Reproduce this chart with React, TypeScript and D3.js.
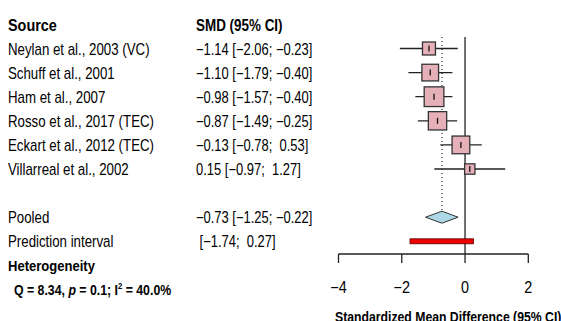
import React, { useEffect, useRef } from 'react';
import * as d3 from 'd3';

const studies = [
  'Neylan et al., 2003 (VC)',
  'Schuff et al., 2001',
  'Ham et al., 2007',
  'Rosso et al., 2017 (TEC)',
  'Eckart et al., 2012 (TEC)',
  'Villarreal et al., 2002',
];
const smd = [-1.14, -1.1, -0.98, -0.87, -0.13, 0.15];
const lower = [-2.06, -1.79, -1.57, -1.49, -0.78, -0.97];
const upper = [-0.23, -0.4, -0.4, -0.25, 0.53, 1.27];
const weights = [10.6, 17.5, 24.4, 21.1, 19.7, 6.7];
const ciLabels = [
  '\u22121.14 [\u22122.06; \u22120.23]',
  '\u22121.10 [\u22121.79; \u22120.40]',
  '\u22120.98 [\u22121.57; \u22120.40]',
  '\u22120.87 [\u22121.49; \u22120.25]',
  '\u22120.13 [\u22120.78;  0.53]',
  '0.15 [\u22120.97;  1.27]',
];
const pooled = { est: -0.73, lo: -1.25, hi: -0.22, label: '\u22120.73 [\u22121.25; \u22120.22]' };
const prediction = { lo: -1.74, hi: 0.27, label: ' [\u22121.74;  0.27]' };
const xTicks = [-4, -2, 0, 2];

function ForestPlot() {
  const svgRef = useRef<SVGSVGElement>(null);

  useEffect(() => {
    if (!svgRef.current) return;
    const width = 561;
    const height = 321;
    const font = '"Liberation Sans Narrow", "Arial Narrow", sans-serif';
    const fs = 16;

    const svg = d3.select(svgRef.current);
    svg.selectAll('*').remove();
    svg.attr('width', width).attr('height', height).attr('viewBox', `0 0 ${width} ${height}`);

    const x = d3.scaleLinear().domain([-4, 2]).range([338.5, 528.3]);
    // rows: studies 0..5, blank 6, pooled 7, prediction 8
    const y = d3.scaleLinear().domain([0, 1]).range([48.5, 72.6]);
    const size = d3.scaleSqrt().domain([0, d3.max(weights) as number]).range([0, 19.7]);

    const g = svg.append('g').attr('font-family', font).attr('fill', '#000');

    // text squeezed horizontally to match the condensed face of the original
    const label = (tx: number, ty: number, str: string, sx: number, opts: any = {}) => {
      const t = g.append('g').attr('transform', `translate(${tx},${ty}) scale(${sx},1)`)
        .append('text')
        .attr('font-size', opts.size || fs)
        .attr('font-weight', opts.bold ? 'bold' : 'normal')
        .attr('text-anchor', opts.anchor || 'start')
        .style('white-space', 'pre');
      if (str) t.text(str);
      return t;
    };

    // headers
    label(8, 31, 'Source', 0.9, { bold: true });
    label(196, 31, 'SMD (95% CI)', 0.84, { bold: true });

    studies.forEach((s, i) => {
      label(8, y(i) + 6, s, 0.83);
      label(196, y(i) + 6, ciLabels[i], 0.81);
    });

    label(8, y(7) + 6, 'Pooled', 0.83);
    label(196, y(7) + 6, pooled.label, 0.81);
    label(8, y(8) + 6, 'Prediction interval', 0.83);
    label(196, y(8) + 6, prediction.label, 0.81);

    label(8, 271, 'Heterogeneity', 0.9, { bold: true, size: 14.5 });
    const q = label(14, 295, '', 0.85, { bold: true, size: 14.5 });
    q.append('tspan').text('Q = 8.34, ');
    q.append('tspan').attr('font-style', 'italic').text('p');
    q.append('tspan').text(' = 0.1; I');
    q.append('tspan').attr('font-size', 9).attr('dy', -6).text('2');
    q.append('tspan').attr('dy', 6).text(' = 40.0%');

    // reference lines
    g.append('line').attr('x1', x(0)).attr('x2', x(0)).attr('y1', 37).attr('y2', 254)
      .attr('stroke', '#222').attr('stroke-width', 1.3);
    g.append('line').attr('x1', x(pooled.est)).attr('x2', x(pooled.est)).attr('y1', 37).attr('y2', y(7) - 6)
      .attr('stroke', '#333').attr('stroke-width', 1.3).attr('stroke-dasharray', '1,3');

    // studies
    studies.forEach((_, i) => {
      const cy = y(i);
      g.append('line').attr('x1', x(lower[i])).attr('x2', x(upper[i])).attr('y1', cy).attr('y2', cy)
        .attr('stroke', '#222').attr('stroke-width', 1.3);
      const s = size(weights[i]);
      g.append('rect').attr('x', x(smd[i]) - s / 2).attr('y', cy - s / 2).attr('width', s).attr('height', s)
        .attr('fill', '#E6B0B9').attr('stroke', '#333').attr('stroke-width', 1.3);
      g.append('line').attr('x1', x(smd[i])).attr('x2', x(smd[i])).attr('y1', cy - 3).attr('y2', cy + 3)
        .attr('stroke', '#111').attr('stroke-width', 1.3);
    });

    // pooled diamond
    const py = y(7);
    const diamond = d3.line()([
      [x(pooled.lo), py], [x(pooled.est), py - 6], [x(pooled.hi), py], [x(pooled.est), py + 6],
    ]) + 'Z';
    g.append('path').attr('d', diamond).attr('fill', '#ADD8E6').attr('stroke', '#333').attr('stroke-width', 1);

    // prediction interval
    const ry = y(8);
    g.append('rect').attr('x', x(prediction.lo)).attr('y', ry - 2.5).attr('width', x(prediction.hi) - x(prediction.lo))
      .attr('height', 5).attr('fill', '#EE0000').attr('stroke', '#550000').attr('stroke-width', 0.8);

    // axis
    const axisY = 254;
    g.append('line').attr('x1', x(-4)).attr('x2', x(2)).attr('y1', axisY).attr('y2', axisY)
      .attr('stroke', '#222').attr('stroke-width', 1.3);
    xTicks.forEach(t => {
      g.append('line').attr('x1', x(t)).attr('x2', x(t)).attr('y1', axisY).attr('y2', axisY + 9)
        .attr('stroke', '#222').attr('stroke-width', 1.3);
      label(x(t), axisY + 39, t < 0 ? `\u2212${Math.abs(t)}` : `${t}`, 0.9, { anchor: 'middle' });
    });
    label(335, 322, 'Standardized Mean Difference (95% CI)', 0.79, { bold: true, size: 15.5 });
  }, []);

  return <svg ref={svgRef} style={{ position: 'absolute', left: 0, top: 0, background: '#fff' }}></svg>;
}

export default function App() {
  return <ForestPlot />;
}
